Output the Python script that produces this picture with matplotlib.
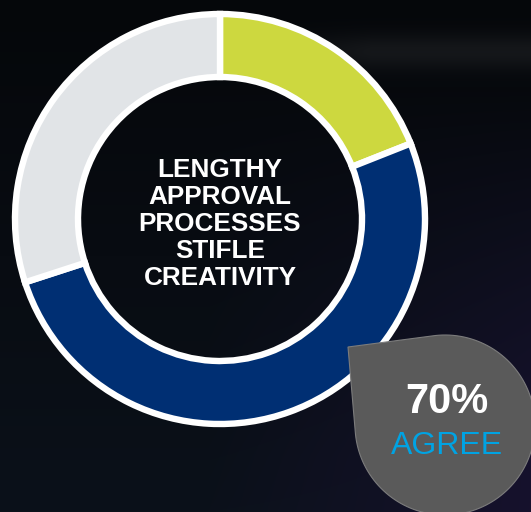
import numpy as np
import matplotlib
import matplotlib.pyplot as plt
from matplotlib.path import Path
from matplotlib.patches import PathPatch

matplotlib.use('Agg')

# ── Data ─────────────────────────────────────────────────────────────────────
labels  = ['Agree strongly', 'Agree', 'Disagree']
shares  = [19, 51, 30]
colors  = ['#CDD83F', '#002F73', '#E1E4E7']
agree   = shares[0] + shares[1]
center_label = 'LENGTHY\nAPPROVAL\nPROCESSES\nSTIFLE\nCREATIVITY'

BG_TOP, BG_BOTTOM, BG_TINT = '#05070a', '#0b111a', '#181230'
BUBBLE, BUBBLE_EDGE, ACCENT = '#5a5a5a', '#7c7c7c', '#00A3E3'

plt.rcParams['font.family'] = ['Liberation Sans', 'DejaVu Sans']

W, H = 531, 512
fig = plt.figure(figsize=(W / 100, H / 100), dpi=100)
ax = fig.add_axes([0, 0, 1, 1])

# dark backdrop: vertical fade, violet tint lower right, soft haze band top right
yy, xx = np.mgrid[0:1:512j, 0:1:531j]
top = np.array(matplotlib.colors.to_rgb(BG_TOP))
bot = np.array(matplotlib.colors.to_rgb(BG_BOTTOM))
tint = np.array(matplotlib.colors.to_rgb(BG_TINT))
base = top * (1 - yy[..., None]) + bot * yy[..., None]
w = np.clip(xx * 1.4 - 0.55, 0, 1) * np.clip(yy * 1.4 - 0.25, 0, 1)
img = base * (1 - w[..., None]) + tint * w[..., None]
haze = np.exp(-((yy - 0.10) / 0.035) ** 2) * np.clip((xx - 0.45) * 4, 0, 1) * 0.14
img = img * (1 - haze[..., None]) + 0.45 * haze[..., None]
ax.imshow(img, extent=(0, W, 0, H), origin='upper', aspect='auto', zorder=0)

# ── Donut ────────────────────────────────────────────────────────────────────
cx, cy, R = 220, H - 219, 205
ax.pie(shares, colors=colors, startangle=90, counterclock=False,
       center=(cx, cy), radius=R,
       wedgeprops=dict(width=63, edgecolor='white', linewidth=4.6),
       frame=True)

ax.text(cx, cy - 5, center_label, ha='center', va='center',
        color='white', fontsize=18.8, fontweight='bold', linespacing=1.17,
        zorder=5)

# ── Teardrop callout ─────────────────────────────────────────────────────────
bx, by, br, tilt = 445, H - 425, 90, 6
tip = (348, H - 347)
theta = np.radians(np.linspace(90 + tilt, -180 + tilt, 120))
arc = np.column_stack([bx + br * np.cos(theta), by + br * np.sin(theta)])
verts = np.vstack([tip, arc, tip])
codes = [Path.MOVETO] + [Path.LINETO] * (len(verts) - 2) + [Path.CLOSEPOLY]
ax.add_patch(PathPatch(Path(verts, codes), facecolor=BUBBLE,
                       edgecolor=BUBBLE_EDGE, linewidth=0.8, zorder=6))

ax.text(447, H - 402, f'{agree}%', ha='center', va='center',
        color='white', fontsize=30, fontweight='bold', zorder=7)
ax.text(447, H - 446, 'AGREE', ha='center', va='center',
        color=ACCENT, fontsize=23, zorder=7)

ax.set_xlim(0, W)
ax.set_ylim(0, H)
ax.set_aspect('auto')
ax.axis('off')

plt.savefig('out.png', dpi=100, facecolor=BG_TOP)
plt.close()
